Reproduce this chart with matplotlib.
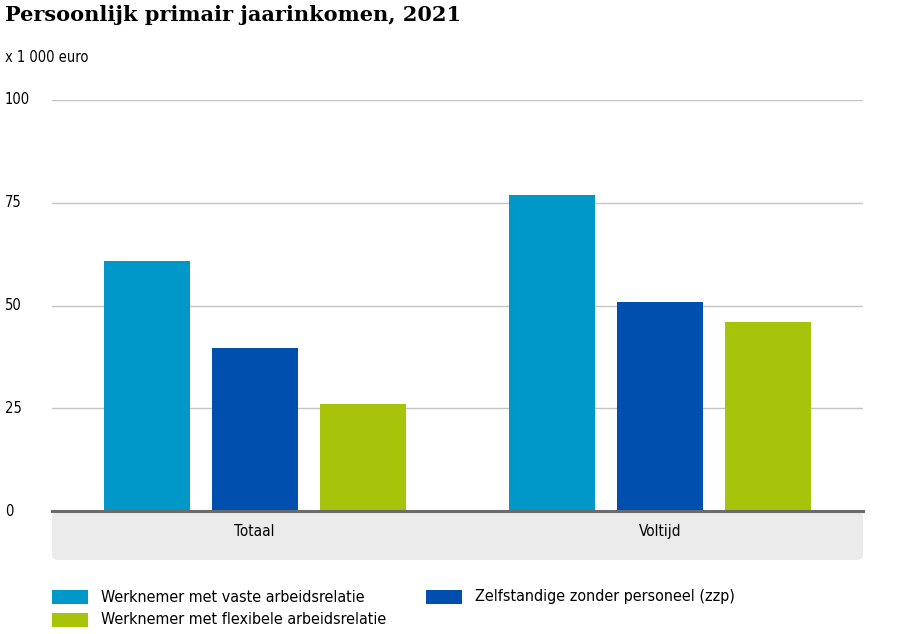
import matplotlib
matplotlib.use('Agg')
import matplotlib.pyplot as plt
from matplotlib.patches import FancyBboxPatch, Rectangle
from matplotlib.transforms import blended_transform_factory
import numpy as np

categories = ['Totaal', 'Voltijd']
series_names = ['Werknemer met vaste arbeidsrelatie',
                'Zelfstandige zonder personeel (zzp)',
                'Werknemer met flexibele arbeidsrelatie']
vaste = [60.8, 76.9]
zzp = [39.6, 50.8]
flex = [26.0, 46.0]
yticks = [0, 25, 50, 75, 100]

colors = ['#0098c8', '#004fae', '#a8c40a']
narrow = dict(family='DejaVu Sans', stretch='condensed')

fig = plt.figure(figsize=(9, 6.34), dpi=100)
ax = fig.add_axes([52 / 900, 123 / 634, 811 / 900, 411 / 634])

x = np.arange(len(categories))
width = 0.212
step = 0.266
for i, (vals, col) in enumerate(zip([vaste, zzp, flex], colors)):
    ax.bar(x + (i - 1) * step, vals, width, color=col, zorder=3)

ax.set_xlim(-0.5, 1.5)
ax.set_ylim(0, 100)
ax.set_xticks([])
ax.set_yticks([])
for s in ax.spines.values():
    s.set_visible(False)
for t in yticks[1:]:
    ax.axhline(t, color='#c4c4c4', lw=1, zorder=1)
ax.axhline(0, color='#6b6b6b', lw=2.2, zorder=4, clip_on=False)

# y labels at left edge of the figure
ytrans = blended_transform_factory(fig.transFigure, ax.transData)
for t in yticks:
    ax.text(5 / 900, t, str(t), transform=ytrans, ha='left', va='center',
            fontsize=10.5, clip_on=False, **narrow)

# grey band with category labels
band = FancyBboxPatch((52 / 900, 74 / 634), 811 / 900, 49 / 634,
                      boxstyle='round,pad=0,rounding_size=0.008',
                      transform=fig.transFigure, facecolor='#ebebeb',
                      edgecolor='none', zorder=-1)
fig.patches.append(band)
for xi, cat in zip(x, categories):
    ax.text(xi, -5.0, cat, ha='center', va='center', fontsize=11,
            clip_on=False, **narrow)

fig.text(5 / 900, 1 - 15 / 634, 'Persoonlijk primair jaarinkomen, 2021',
         ha='left', va='center', fontsize=15, fontweight='bold',
         family='DejaVu Serif')
fig.text(5 / 900, 1 - 58 / 634, 'x 1 000 euro', ha='left', va='center',
         fontsize=10.5, **narrow)

# legend
legend_pos = [(52, 590), (426, 590), (52, 613)]
for (px, py), name, col in zip(legend_pos, series_names, colors):
    fig.patches.append(Rectangle((px / 900, 1 - (py + 14) / 634), 36 / 900, 14 / 634,
                                 transform=fig.transFigure, facecolor=col,
                                 edgecolor='none'))
    fig.text((px + 49) / 900, 1 - (py + 7) / 634, name, ha='left',
             va='center', fontsize=11.5, **narrow)

fig.savefig('out.png', dpi=100)
